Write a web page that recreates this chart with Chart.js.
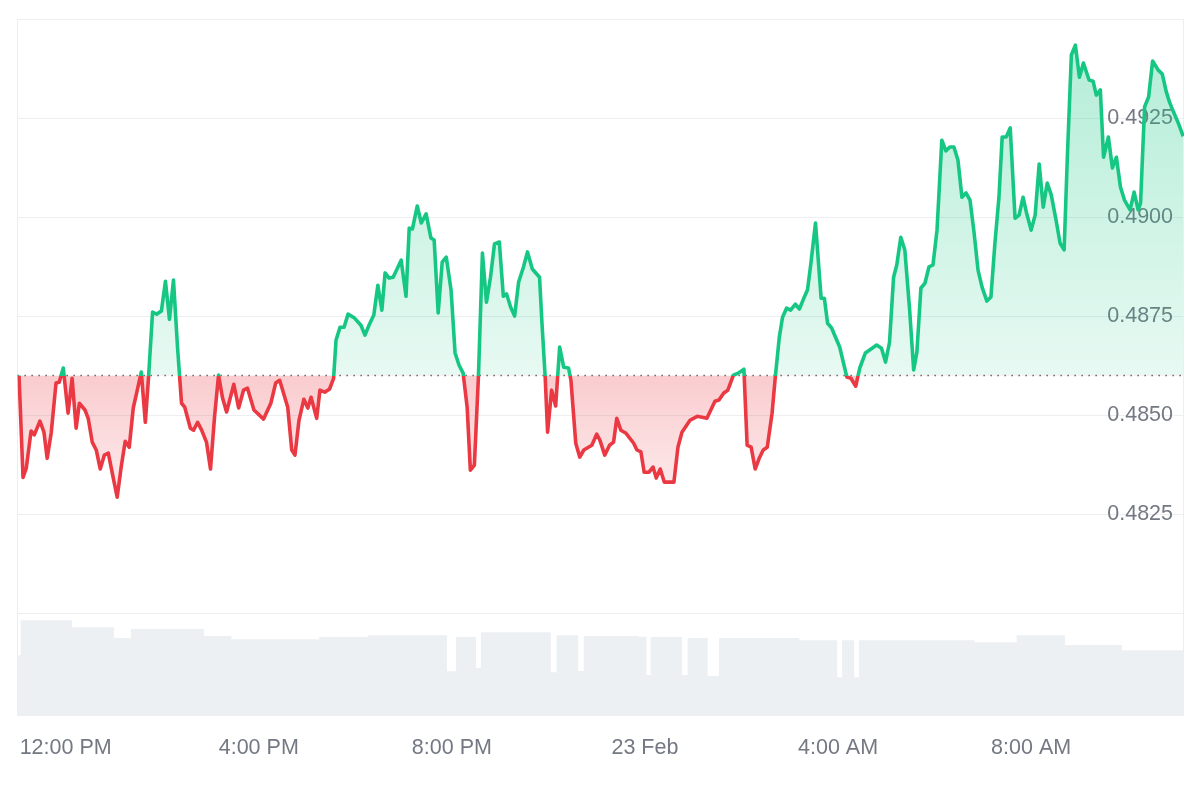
<!DOCTYPE html>
<html><head><meta charset="utf-8">
<script src="https://cdn.jsdelivr.net/npm/chart.js@4.4.1/dist/chart.umd.min.js"></script>
<style>html,body{margin:0;padding:0;background:#fff;}#wrap{width:1200px;height:800px;position:relative;}</style>
</head><body><div id="wrap"><canvas id="c" width="1200" height="800"></canvas></div>
<script>
// minutes since 11:00 AM, 22 Feb
const baseline = 0.4860;
const times = [
2,7,11,17,21,28,33,37,42,48,
52,57,63,68,73,77,84,88,93,98,
103,108,113,119,124,129,134,139,144,149,
154,159,163,168,173,179,184,189,194,199,
204,208,215,219,224,229,235,240,245,250,
255,260,269,275,281,286,294,306,315,321,
326,336,341,345,350,356,361,365,372,376,
382,388,393,396,401,406,411,419,427,432,
437,443,448,453,457,462,467,477,483,487,
491,497,502,508,514,518,523,528,533,539,
544,549,554,559,563,568,573,578,583,588,
593,599,604,608,613,618,623,629,634,640,
649,652,656,659,664,669,674,679,685,688,
694,699,704,714,720,724,730,736,741,745,
750,756,766,770,775,779,785,790,794,799,
804,816,821,826,836,845,857,867,872,878,
883,890,896,903,907,912,917,922,927,932,
938,942,947,951,956,961,967,972,977,982,
986,992,999,1003,1007,1012,1022,1031,1036,1042,
1047,1054,1068,1074,1079,1084,1089,1093,1098,1103,
1109,1114,1118,1123,1128,1133,1138,1143,1149,1154,
1159,1164,1169,1174,1179,1184,1189,1194,1199,1205,
1210,1215,1220,1224,1229,1234,1240,1245,1250,1254,
1260,1265,1270,1275,1280,1285,1291,1296,1301,1305,
1310,1315,1320,1325,1332,1337,1341,1346,1350,1356,
1361,1366,1371,1376,1383,1388,1393,1396,1401,1406,
1411,1418,1423,1428,1432,1436,1443,1449];
const prices = [
0.48600,0.48343,0.48366,0.48460,0.48450,0.48485,0.48457,0.48391,0.48455,0.48581,
0.48583,0.48619,0.48505,0.48593,0.48467,0.48530,0.48513,0.48492,0.48432,0.48412,
0.48364,0.48399,0.48404,0.48343,0.48293,0.48369,0.48434,0.48419,0.48518,0.48563,
0.48609,0.48482,0.48596,0.48760,0.48755,0.48763,0.48838,0.48742,0.48841,0.48672,
0.48530,0.48520,0.48467,0.48462,0.48482,0.48462,0.48432,0.48364,0.48495,0.48601,
0.48543,0.48508,0.48578,0.48518,0.48563,0.48568,0.48513,0.48490,0.48530,0.48581,
0.48588,0.48520,0.48412,0.48399,0.48487,0.48540,0.48518,0.48545,0.48492,0.48563,
0.48558,0.48566,0.48593,0.48689,0.48722,0.48722,0.48755,0.48745,0.48727,0.48702,
0.48727,0.48753,0.48828,0.48765,0.48859,0.48846,0.48848,0.48891,0.48800,0.48972,
0.48970,0.49028,0.48985,0.49008,0.48947,0.48942,0.48758,0.48886,0.48899,0.48816,
0.48657,0.48626,0.48606,0.48520,0.48361,0.48374,0.48596,0.48909,0.48785,0.48848,
0.48932,0.48937,0.48800,0.48806,0.48773,0.48750,0.48836,0.48874,0.48912,0.48869,
0.48848,0.48732,0.48596,0.48457,0.48563,0.48523,0.48672,0.48621,0.48619,0.48588,
0.48429,0.48394,0.48412,0.48424,0.48452,0.48437,0.48399,0.48424,0.48432,0.48492,
0.48462,0.48455,0.48429,0.48412,0.48407,0.48356,0.48356,0.48369,0.48341,0.48364,
0.48331,0.48331,0.48419,0.48457,0.48487,0.48497,0.48492,0.48535,0.48538,0.48556,
0.48563,0.48601,0.48606,0.48616,0.48424,0.48419,0.48364,0.48391,0.48412,0.48419,
0.48505,0.48596,0.48697,0.48747,0.48770,0.48765,0.48780,0.48768,0.48793,0.48816,
0.48879,0.48985,0.48795,0.48795,0.48732,0.48720,0.48672,0.48596,0.48593,0.48573,
0.48619,0.48657,0.48677,0.48669,0.48634,0.48684,0.48848,0.48879,0.48949,0.48917,
0.48765,0.48614,0.48659,0.48821,0.48833,0.48874,0.48879,0.48967,0.49194,0.49167,
0.49177,0.49177,0.49144,0.49050,0.49061,0.49043,0.48962,0.48866,0.48823,0.48788,
0.48798,0.48934,0.49050,0.49202,0.49202,0.49225,0.48997,0.49005,0.49050,0.49013,
0.48967,0.49005,0.49134,0.49025,0.49086,0.49056,0.48992,0.48934,0.48917,0.49151,
0.49409,0.49434,0.49353,0.49389,0.49346,0.49343,0.49308,0.49321,0.49151,0.49202,
0.49124,0.49151,0.49076,0.49043,0.49018,0.49063,0.49018,0.49035,0.49278,0.49303,
0.49394,0.49371,0.49361,0.49316,0.49290,0.49270,0.49237,0.49204];
// 24h volume (millions), each value holds until the next time
const volTimes = [0,4,68,120,141,232,266,375,436,534,545,570,576,663,670,697,704,772,782,787,826,833,858,872,972,1019,1025,1040,1046,1190,1242,1302,1373,1450];
const volumes  = [175,275,255,224,250,230,221,227,232,129,227,138,241,126,232,130,230,228,118,227,118,224,115,224,218,112,218,112,218,212,232,204,189,189];
const xTickTimes = [60,300,540,780,1020,1260];
const xTickLabels = ['12:00 PM','4:00 PM','8:00 PM','23 Feb','4:00 AM','8:00 AM'];
const yTickValues = [0.4800,0.4825,0.4850,0.4875,0.4900,0.4925,0.4950];
const yTickLabels = ['','0.4825','0.4850','0.4875','0.4900','0.4925',''];

const GREEN = '#16c784', RED = '#ea3943', GRID = '#eceef1', TXT = '#737882';
const FONT = {family: '"Liberation Sans", Arial, Helvetica, sans-serif', size: 21.5};

const frame = {
  id: 'frame',
  beforeDatasetsDraw(chart) {
    const {ctx, chartArea: a} = chart;
    ctx.save();
    ctx.strokeStyle = GRID; ctx.lineWidth = 1;
    ctx.strokeRect(Math.round(a.left) + 0.5, Math.round(a.top) + 0.5, Math.round(a.width) - 1, Math.round(a.height) - 1);
    ctx.restore();
  }
};

const chart = new Chart(document.getElementById('c'), {
  type: 'line',
  data: {
    datasets: [
      {label: 'price', data: times.map((t, i) => ({x: t, y: prices[i]})), yAxisID: 'y',
       borderColor: GREEN, borderWidth: 3.6, pointRadius: 0, tension: 0, borderJoinStyle: 'round',
       fill: {target: {value: baseline}, above: 'rgba(22,199,132,0.2)', below: 'rgba(234,57,67,0.2)'}, order: 1},
      {label: 'base', data: [{x: 0, y: baseline}, {x: 1450, y: baseline}], yAxisID: 'y',
       borderColor: 'rgba(70,70,70,0.85)', borderWidth: 1.5, borderDash: [1.5, 5.5], pointRadius: 0, fill: false, order: 2},
      {label: 'volume', data: volTimes.map((t, i) => ({x: t, y: volumes[i]})), yAxisID: 'v',
       stepped: true, borderWidth: 0, borderColor: 'rgba(0,0,0,0)', backgroundColor: '#edf0f3',
       fill: 'origin', pointRadius: 0, order: 3}
    ]
  },
  options: {
    responsive: false, animation: false, events: [],
    layout: {padding: {top: 19, left: 16, right: 16, bottom: 20}},
    plugins: {legend: {display: false}, tooltip: {enabled: false}},
    scales: {
      x: {type: 'linear', min: 0, max: 1450,
          grid: {display: false, drawTicks: false}, border: {display: false},
          afterBuildTicks: s => { s.ticks = xTickTimes.map(v => ({value: v})); },
          ticks: {padding: 19, maxRotation: 0, autoSkip: false, color: TXT, font: FONT,
                  callback: (v, i) => xTickLabels[i]}},
      y: {position: 'right', min: 0.4774, max: 0.4950,
          grid: {color: GRID, drawTicks: false}, border: {display: false},
          afterBuildTicks: s => { s.ticks = yTickValues.map(v => ({value: v})); },
          ticks: {mirror: true, padding: -11, color: TXT, font: FONT,
                  callback: (v, i) => yTickLabels[i]}},
      v: {display: false, min: 0, max: 2000}
    }
  },
  plugins: [frame]
});

(function applyStyles() {
  const a = chart.chartArea, ys = chart.scales.y, ctx = chart.ctx;
  const by = ys.getPixelForValue(baseline);
  const f = Math.min(1, Math.max(0, (by - a.top) / (a.bottom - a.top)));
  const line = ctx.createLinearGradient(0, a.top, 0, a.bottom);
  line.addColorStop(0, GREEN); line.addColorStop(f, GREEN); line.addColorStop(f, RED); line.addColorStop(1, RED);
  const up = ctx.createLinearGradient(0, ys.getPixelForValue(0.4950), 0, by);
  up.addColorStop(0, 'rgba(22,199,132,0.34)'); up.addColorStop(1, 'rgba(22,199,132,0.10)');
  const dn = ctx.createLinearGradient(0, by, 0, ys.getPixelForValue(0.4825));
  dn.addColorStop(0, 'rgba(234,57,67,0.26)'); dn.addColorStop(1, 'rgba(234,57,67,0.08)');
  const ds = chart.data.datasets[0];
  ds.borderColor = line;
  ds.fill = {target: {value: baseline}, above: up, below: dn};
  chart.update('none');
})();
</script></body></html>
